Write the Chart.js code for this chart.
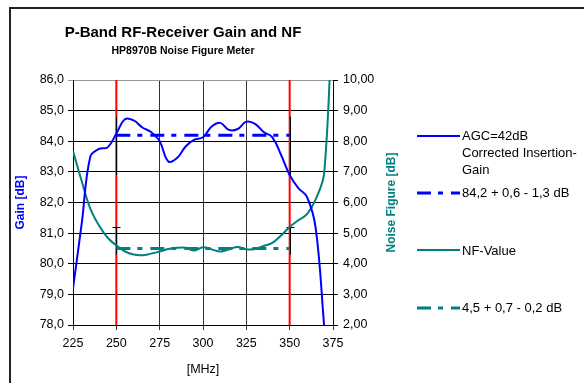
<!DOCTYPE html>
<html>
<head>
<meta charset="utf-8">
<script src="https://cdn.jsdelivr.net/npm/chart.js@4.4.0/dist/chart.umd.min.js"></script>
<style>
  body { margin: 0; background: #fff; }
  #wrap { position: relative; width: 584px; height: 383px; overflow: hidden; }
  #frame { position: absolute; left: 9px; top: 7px; width: 600px; height: 400px;
           border-left: 2px solid #222; border-top: 2px solid #222; }
  canvas { position: absolute; left: 0; top: 0; }
</style>
</head>
<body>
<div id="wrap">
  <div id="frame"></div>
  <canvas id="myChart" width="584" height="383"></canvas>
</div>
<script>
// frequencies [MHz]
const freqs = [225, 230, 235, 240, 245, 250, 255, 260, 265, 270, 275, 280, 285, 290, 295, 300,
               305, 310, 315, 320, 325, 330, 335, 340, 345, 350, 355, 360, 365, 370, 375];
// corrected insertion gain [dB], AGC=42dB
const gain = [79.2, 81.3, 83.5, 83.75, 83.8, 84.25, 84.72, 84.68, 84.45, 84.3, 84.0, 83.34, 83.45, 83.83, 84.05, 84.13,
              84.48, 84.6, 84.37, 84.4, 84.64, 84.57, 84.3, 84.13, 83.56, 82.9, 82.47, 82.18, 81.17, 77.9, null];
// noise figure [dB]
const nf = [7.68, 6.7, 5.8, 5.25, 4.85, 4.6, 4.4, 4.3, 4.28, 4.33, 4.4, 4.48, 4.52, 4.52, 4.43, 4.54,
            4.47, 4.4, 4.47, 4.55, 4.47, 4.48, 4.58, 4.68, 4.92, 5.2, 5.42, 5.62, 6.1, 7.0, 13.0];

const bandEdges = [250, 350];
const gainSpec = [84.2, 0.6, 1.3];   // level, +, -
const nfSpec = [4.5, 0.7, 0.2];

const blue = '#0000ff';
const teal = '#008080';
const red = '#ff0000';
const dashDot = [14, 7, 5, 8];

const fmt = (v, d) => v.toFixed(d).replace('.', ',');

const ctx = document.getElementById('myChart');

const extras = {
  id: 'extras',
  afterDatasetDraw(chart, args) {
    // error bars, drawn right after the red band edges
    if (args.index !== 5) return;
    const c = chart.ctx, x = chart.scales.x, y = chart.scales.y, y2 = chart.scales.y2;
    c.save();
    c.strokeStyle = '#000';
    c.lineWidth = 1;
    bandEdges.forEach(f => {
      const px = Math.round(x.getPixelForValue(f)) + 0.5;
      c.beginPath();
      c.moveTo(px, y.getPixelForValue(gainSpec[0] + gainSpec[1]));
      c.lineTo(px, y.getPixelForValue(gainSpec[0] - gainSpec[2]));
      c.stroke();
      const top = Math.round(y2.getPixelForValue(nfSpec[0] + nfSpec[1])) + 0.5;
      c.beginPath();
      c.moveTo(px, top);
      c.lineTo(px, y2.getPixelForValue(nfSpec[0] - nfSpec[2]));
      c.moveTo(px - 4, top);
      c.lineTo(px + 4, top);
      c.stroke();
    });
    c.restore();
  },
  afterDraw(chart) {
    const c = chart.ctx;
    const area = chart.chartArea;
    c.save();
    c.fillStyle = '#000';
    c.textAlign = 'center';
    c.font = 'bold 15px "Liberation Sans", Arial, sans-serif';
    c.fillText('P-Band RF-Receiver Gain and NF', 183, 37);
    c.font = 'bold 10.5px "Liberation Sans", Arial, sans-serif';
    c.fillText('HP8970B Noise Figure Meter', 183, 54);

    // right axis title, reading upwards
    c.save();
    c.translate(392, (area.top + area.bottom) / 2);
    c.rotate(-Math.PI / 2);
    c.fillStyle = teal;
    c.textBaseline = 'middle';
    c.font = 'bold 12px "Liberation Sans", Arial, sans-serif';
    c.fillText('Noise Figure [dB]', 0, 0);
    c.restore();

    // legend
    const items = [
      { color: blue, dash: [], lw: 2, y: 136, text: ['AGC=42dB', 'Corrected Insertion-', 'Gain'], base: 139.5 },
      { color: blue, dash: dashDot, lw: 3, y: 193, text: ['84,2 + 0,6 - 1,3 dB'], base: 196.5 },
      { color: teal, dash: [], lw: 2, y: 250, text: ['NF-Value'], base: 255 },
      { color: teal, dash: dashDot, lw: 3, y: 308, text: ['4,5 + 0,7 - 0,2 dB'], base: 311.5 }
    ];
    c.textAlign = 'left';
    c.font = '13px "Liberation Sans", Arial, sans-serif';
    items.forEach(it => {
      c.strokeStyle = it.color;
      c.lineWidth = it.lw;
      c.setLineDash(it.dash);
      c.beginPath();
      c.moveTo(417, it.y);
      c.lineTo(460, it.y);
      c.stroke();
      c.setLineDash([]);
      it.text.forEach((t, i) => c.fillText(t, 462, it.base + i * 17));
    });
    c.restore();
  }
};

const pts = (xs, ys) => xs.map((x, i) => ({ x: x, y: ys[i] }));

new Chart(ctx, {
  type: 'line',
  data: {
    datasets: [
      { label: 'AGC=42dB Corrected Insertion-Gain', data: pts(freqs, gain), yAxisID: 'y',
        borderColor: blue, borderWidth: 2, tension: 0.4, pointRadius: 0, order: 1 },
      { label: '84,2 + 0,6 - 1,3 dB', data: pts(bandEdges, [gainSpec[0], gainSpec[0]]), yAxisID: 'y',
        borderColor: blue, borderWidth: 3, borderDash: dashDot, pointRadius: 0, order: 2 },
      { label: 'NF-Value', data: pts(freqs, nf), yAxisID: 'y2',
        borderColor: teal, borderWidth: 2, tension: 0.4, pointRadius: 0, order: 3 },
      { label: '4,5 + 0,7 - 0,2 dB', data: pts(bandEdges, [nfSpec[0], nfSpec[0]]), yAxisID: 'y2',
        borderColor: teal, borderWidth: 3, borderDash: dashDot, pointRadius: 0, order: 4 },
      { label: 'edge1', data: pts([bandEdges[0], bandEdges[0]], [78, 86]), yAxisID: 'y',
        borderColor: red, borderWidth: 2, pointRadius: 0, order: 10 },
      { label: 'edge2', data: pts([bandEdges[1], bandEdges[1]], [78, 86]), yAxisID: 'y',
        borderColor: red, borderWidth: 2, pointRadius: 0, order: 9 }
    ]
  },
  options: {
    responsive: false,
    animation: false,
    layout: { padding: { left: 11, top: 80, right: 181, bottom: 2 } },
    plugins: {
      legend: { display: false },
      title: { display: false },
      tooltip: { enabled: false }
    },
    scales: {
      x: {
        type: 'linear', min: 225, max: 375,
        afterFit: s => { s.height = 56; },
        ticks: { stepSize: 25, color: '#000', padding: 6,
                 font: { family: '"Liberation Sans", Arial', size: 12.5 } },
        grid: { color: '#333', tickLength: 5 },
        border: { color: '#000' },
        title: { display: true, text: '[MHz]', color: '#000', padding: 4,
                 font: { family: '"Liberation Sans", Arial', size: 12.5 } }
      },
      y: {
        position: 'left', min: 78, max: 86,
        afterFit: s => { s.width = 62; },
        ticks: { stepSize: 1, color: '#000', padding: 4, callback: v => fmt(v, 1),
                 font: { family: '"Liberation Sans", Arial', size: 12.5 } },
        grid: { color: c => c.tick && c.tick.value === 86 ? '#999' : '#000', tickLength: 5 },
        border: { color: '#000' },
        title: { display: true, text: 'Gain [dB]', color: blue, padding: 2,
                 font: { family: '"Liberation Sans", Arial', size: 12, weight: 'bold' } }
      },
      y2: {
        position: 'right', min: 2, max: 10,
        afterFit: s => { s.width = 70; },
        ticks: { stepSize: 1, color: '#000', padding: 5, callback: v => fmt(v, 2),
                 font: { family: '"Liberation Sans", Arial', size: 12.5 } },
        grid: { drawOnChartArea: false, color: '#000', tickLength: 5 },
        border: { color: '#000' }
      }
    }
  },
  plugins: [extras]
});
</script>
</body>
</html>
